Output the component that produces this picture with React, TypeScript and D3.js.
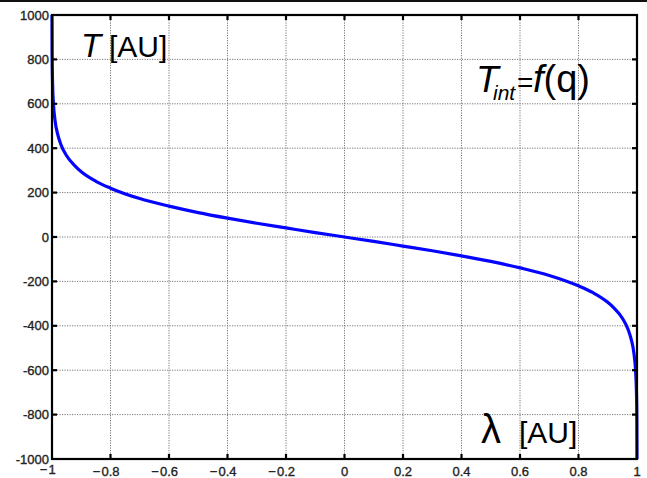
import React, { useEffect, useRef } from 'react';
import * as d3 from 'd3';

// curve points
const lambdaVals = [
  -1, -0.9999, -0.9995, -0.998, -0.995, -0.99, -0.98, -0.97, -0.95, -0.92, -0.9,
  -0.85, -0.8, -0.7, -0.6, -0.5, -0.4, -0.3, -0.2, -0.1, 0,
  0.1, 0.2, 0.3, 0.4, 0.5, 0.6, 0.7, 0.8, 0.85, 0.9,
  0.92, 0.95, 0.97, 0.98, 0.99, 0.995, 0.998, 0.9995, 0.9999, 1,
];
const tVals = [
  1000, 990, 829, 691, 599, 529, 460, 418, 366, 318, 294,
  251, 220, 173, 139, 110, 85, 62, 41, 20, 0,
  -20, -41, -62, -85, -110, -139, -173, -220, -251, -294,
  -318, -366, -418, -460, -529, -599, -691, -829, -990, -1000,
];

const xTicks = [-1, -0.8, -0.6, -0.4, -0.2, 0, 0.2, 0.4, 0.6, 0.8, 1];
const yTicks = [1000, 800, 600, 400, 200, 0, -200, -400, -600, -800, -1000];

const W = 647;
const H = 478;
const plot = { left: 52, right: 637, top: 15, bottom: 459 };
const font = 'Liberation Sans, Arial, sans-serif';

const App = () => {
  const svgRef = useRef<SVGSVGElement | null>(null);

  useEffect(() => {
    const svg = d3.select(svgRef.current);
    svg.selectAll('*').remove();

    const x = d3.scaleLinear().domain([-1, 1]).range([plot.left, plot.right]);
    const y = d3.scaleLinear().domain([-1000, 1000]).range([plot.bottom, plot.top]);

    svg.append('rect').attr('width', W).attr('height', H).attr('fill', '#fff');
    // line across the top of the page
    svg.append('rect').attr('x', 0).attr('y', 0).attr('width', W).attr('height', 2).attr('fill', '#111');

    // grid
    const grid = svg.append('g')
      .attr('stroke', '#777')
      .attr('stroke-width', 1)
      .attr('stroke-dasharray', '1.2,1.3');
    grid.selectAll('.gx')
      .data(xTicks.slice(1, -1))
      .enter().append('line')
      .attr('x1', d => x(d)).attr('x2', d => x(d))
      .attr('y1', plot.top).attr('y2', plot.bottom);
    grid.selectAll('.gy')
      .data(yTicks.slice(1, -1))
      .enter().append('line')
      .attr('y1', d => y(d)).attr('y2', d => y(d))
      .attr('x1', plot.left).attr('x2', plot.right);

    // curve
    const line = d3.line<number>()
      .x((d, i) => x(lambdaVals[i]))
      .y(d => y(d))
      .curve(d3.curveMonotoneX);
    svg.append('path')
      .datum(tVals)
      .attr('d', line)
      .attr('fill', 'none')
      .attr('stroke', '#0505ff')
      .attr('stroke-width', 3.2);

    // frame
    svg.append('rect')
      .attr('x', plot.left).attr('y', plot.top)
      .attr('width', plot.right - plot.left).attr('height', plot.bottom - plot.top)
      .attr('fill', 'none').attr('stroke', '#000').attr('stroke-width', 2.2);

    // ticks, inside on all four sides
    const ticks = svg.append('g').attr('stroke', '#000').attr('stroke-width', 2.2);
    xTicks.slice(1, -1).forEach(d => {
      ticks.append('line').attr('x1', x(d)).attr('x2', x(d)).attr('y1', plot.bottom).attr('y2', plot.bottom - 5);
      ticks.append('line').attr('x1', x(d)).attr('x2', x(d)).attr('y1', plot.top).attr('y2', plot.top + 5);
    });
    yTicks.slice(1, -1).forEach(d => {
      ticks.append('line').attr('y1', y(d)).attr('y2', y(d)).attr('x1', plot.left).attr('x2', plot.left + 5);
      ticks.append('line').attr('y1', y(d)).attr('y2', y(d)).attr('x1', plot.right).attr('x2', plot.right - 5);
    });

    // y tick labels
    svg.append('g')
      .selectAll('text')
      .data(yTicks)
      .enter().append('text')
      .attr('x', plot.left - 3)
      .attr('y', d => y(d))
      .attr('dy', '0.36em')
      .attr('text-anchor', 'end')
      .attr('font-family', font)
      .attr('font-size', 13)
      .attr('fill', '#222')
      .attr('stroke', '#222')
      .attr('stroke-width', 0.35)
      .text(d => String(d));

    // x tick labels: number centred on tick, wide minus hanging to the left
    const xl = svg.append('g')
      .attr('font-family', font)
      .attr('font-size', 13)
      .attr('fill', '#222')
      .attr('stroke', '#222')
      .attr('stroke-width', 0.35);
    xTicks.forEach(d => {
      const yy = d === -1 ? 474 : 476;
      const num = xl.append('text')
        .attr('x', x(d))
        .attr('y', yy)
        .attr('text-anchor', 'middle')
        .text(String(Math.abs(d)));
      if (d < 0) {
        const w = (num.node() as SVGTextElement).getComputedTextLength();
        xl.append('text')
          .attr('x', x(d) - w / 2 - 1)
          .attr('y', yy)
          .attr('text-anchor', 'end')
          .text('\u2212');
      }
    });

    // annotations
    const tLabel = svg.append('text')
      .attr('font-family', font)
      .attr('fill', '#000')
      .attr('y', 57);
    tLabel.append('tspan').attr('x', 81).attr('font-size', 33).attr('font-style', 'italic').text('T');
    tLabel.append('tspan').attr('x', 109).attr('font-size', 30).text('[AU]');

    const fLabel = svg.append('text')
      .attr('font-family', font)
      .attr('fill', '#000');
    fLabel.append('tspan').attr('x', 476).attr('y', 92).attr('font-size', 37).attr('font-style', 'italic').text('T');
    fLabel.append('tspan').attr('x', 493).attr('y', 100).attr('font-size', 21).attr('font-style', 'italic').text('int');
    fLabel.append('tspan').attr('x', 517).attr('y', 92).attr('font-size', 28).text('=');
    fLabel.append('tspan').attr('x', 533).attr('y', 92).attr('font-size', 38).attr('font-style', 'italic').text('f');
    fLabel.append('tspan').attr('y', 92).attr('font-size', 38).text('(q)');

    const lLabel = svg.append('text')
      .attr('font-family', font)
      .attr('fill', '#000')
      .attr('y', 443);
    lLabel.append('tspan').attr('x', 481).attr('font-size', 40).text('\u03bb');
    lLabel.append('tspan').attr('x', 519).attr('font-size', 30).text('[AU]');
  }, []);

  return (
    <svg ref={svgRef} width={W} height={H} style={{ position: 'absolute', left: 0, top: 0 }}></svg>
  );
};

export default App;
